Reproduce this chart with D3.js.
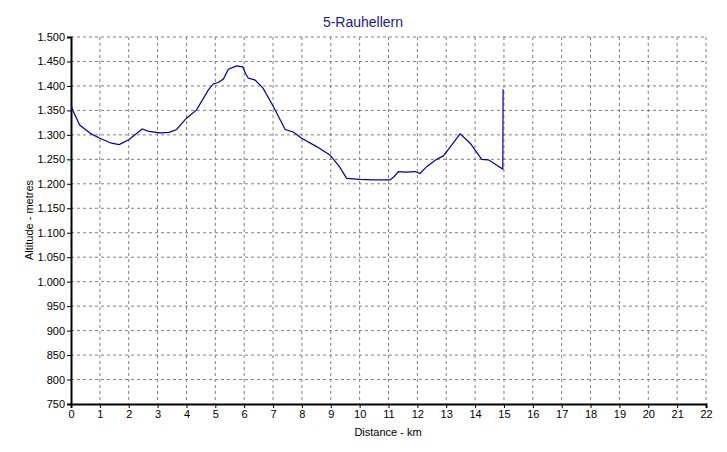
<!DOCTYPE html><html><head><script src="https://cdn.jsdelivr.net/npm/d3@7"></script>
<style>body{margin:0;background:#fff}text{font-family:Arial,"Liberation Sans",sans-serif}</style></head><body>
<svg id="c" width="727" height="452"></svg>
<script>
const distKm=[0,0.1,0.3,0.7,1.0,1.4,1.67,2.0,2.47,2.7,3.08,3.4,3.66,4.0,4.35,4.76,4.93,5.1,5.28,5.45,5.74,5.95,6.05,6.14,6.38,6.66,7.01,7.42,7.7,7.99,8.51,8.97,9.3,9.55,10.01,10.5,11.05,11.2,11.34,11.6,11.92,12.09,12.32,12.67,12.9,13.2,13.48,13.83,14.23,14.46,14.7,14.96,14.97];
const altM=[1360,1345,1320,1302,1293,1283,1280,1290,1312,1307,1304,1305,1311,1334,1351,1392,1404,1407,1414,1434,1441,1439,1425,1416,1412,1395,1358,1311,1306,1293,1276,1259,1235,1211,1209,1208,1208,1215,1225,1224,1225,1221,1235,1250,1257,1280,1302,1283,1250,1249,1240,1230,1393];
const xTicks=d3.range(0,23);
const yTicks=d3.range(750,1501,50);
const svg=d3.select("#c");
const x=d3.scaleLinear().domain([0,22]).range([71,706]);
const y=d3.scaleLinear().domain([750,1500]).range([404,37]);
const fmt=v=>v>=1000?d3.format(",")(v).replace(",","."):String(v);
svg.append("g").selectAll("line").data(xTicks.slice(1)).join("line").attr("x1",d=>x(d)).attr("x2",d=>x(d)).attr("y1",37).attr("y2",404).attr("stroke","#808080").attr("stroke-dasharray","3,3");
svg.append("g").selectAll("line").data(yTicks.slice(1)).join("line").attr("x1",71).attr("x2",706).attr("y1",d=>y(d)).attr("y2",d=>y(d)).attr("stroke","#808080").attr("stroke-dasharray","3,3");
const ax=svg.append("g").attr("transform","translate(0,404)").call(d3.axisBottom(x).tickValues(xTicks).tickSize(4).tickPadding(2));
const ay=svg.append("g").attr("transform","translate(71,0)").call(d3.axisLeft(y).tickValues(yTicks).tickFormat(fmt).tickSize(4).tickPadding(2));
[ax,ay].forEach(a=>{a.selectAll("text").attr("font-size",11).attr("fill","#000");a.select(".domain").attr("stroke","#000").attr("stroke-width",2);});
svg.append("path").datum(distKm.map((d,i)=>[d,altM[i]])).attr("fill","none").attr("stroke","#0000a0").attr("stroke-width",1.2)
 .attr("d",d3.line().x(d=>x(d[0])).y(d=>y(d[1])));
svg.append("text").attr("x",363).attr("y",27).attr("text-anchor","middle").attr("font-size",14).attr("fill","#1a1a8c").text("5-Rauhellern");
svg.append("text").attr("x",388).attr("y",436).attr("text-anchor","middle").attr("font-size",11).text("Distance - km");
svg.append("text").attr("transform","translate(33,220) rotate(-90)").attr("text-anchor","middle").attr("font-size",11).text("Altitude - metres");
</script></body></html>
